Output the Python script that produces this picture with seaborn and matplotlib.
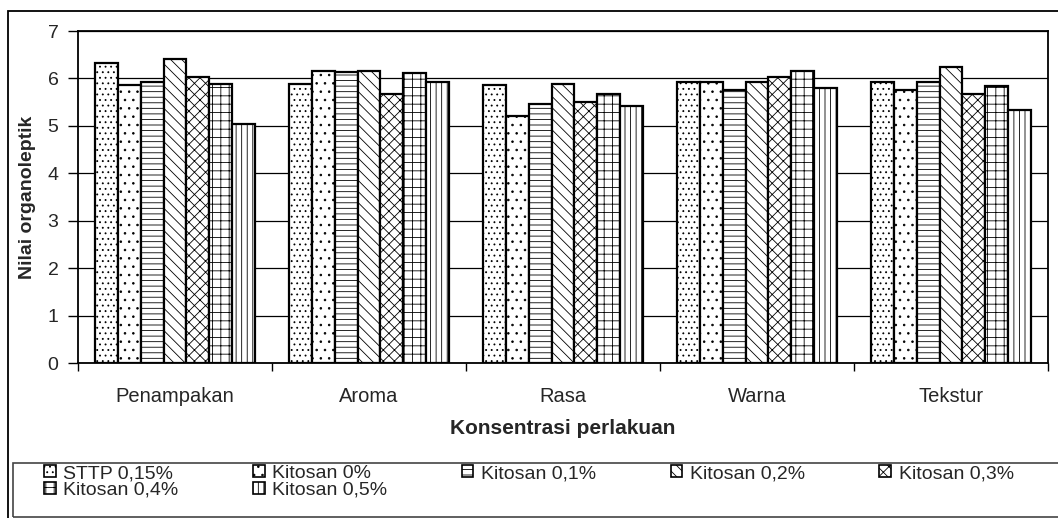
import pandas as pd
import numpy as np
import matplotlib
matplotlib.use('Agg')
import matplotlib.pyplot as plt
import seaborn as sns
from matplotlib.patches import Rectangle

# Data
categories = ['Penampakan', 'Aroma', 'Rasa', 'Warna', 'Tekstur']
treatments = ['STTP 0,15%', 'Kitosan 0%', 'Kitosan 0,1%', 'Kitosan 0,2%',
              'Kitosan 0,3%', 'Kitosan 0,4%', 'Kitosan 0,5%']
sttp_015 = [6.33, 5.88, 5.87, 5.92, 5.92]
kitosan_0 = [5.87, 6.16, 5.21, 5.92, 5.75]
kitosan_01 = [5.92, 6.13, 5.46, 5.75, 5.92]
kitosan_02 = [6.40, 6.16, 5.88, 5.92, 6.25]
kitosan_03 = [6.04, 5.67, 5.50, 6.04, 5.67]
kitosan_04 = [5.88, 6.12, 5.67, 6.16, 5.84]
kitosan_05 = [5.04, 5.92, 5.42, 5.79, 5.33]
yticks = [0, 1, 2, 3, 4, 5, 6, 7]

series = [sttp_015, kitosan_0, kitosan_01, kitosan_02, kitosan_03, kitosan_04, kitosan_05]
hatches = ['...', '..', '---', '\\\\\\', 'xxx', '++', '|||']

rows = []
for name, vals in zip(treatments, series):
    for cat, v in zip(categories, vals):
        rows.append({'kategori': cat, 'perlakuan': name, 'nilai': v})
df = pd.DataFrame(rows)

sns.set_style('white')
plt.rcParams['font.family'] = ['Liberation Sans', 'DejaVu Sans']
plt.rcParams['hatch.linewidth'] = 0.6
plt.rcParams['hatch.color'] = 'black'

fig = plt.figure(figsize=(10.58, 5.18), dpi=100)
ax = fig.add_axes([78 / 1058, 1 - 363 / 518, 970 / 1058, 332 / 518])

sns.barplot(data=df, x='kategori', y='nilai', hue='perlakuan', order=categories,
            hue_order=treatments, color='white', saturation=1, width=0.82, gap=0,
            edgecolor='black', linewidth=1.6, errorbar=None, legend=False, ax=ax)

handles = []
for cont, h, name in zip(ax.containers, hatches, treatments):
    for bar in cont:
        bar.set_facecolor('white')
        bar.set_hatch(h)
        bar.set_zorder(3)
    handles.append(plt.Rectangle((0, 0), 1, 1, facecolor='white', edgecolor='black',
                                 hatch=h, linewidth=1.2, label=name))

ax.set_ylim(0, 7)
ax.set_xlim(-0.5, len(categories) - 0.5)
ax.set_yticks(yticks)
ax.yaxis.grid(True, color='black', linewidth=0.9)
ax.set_axisbelow(True)
for s in ax.spines.values():
    s.set_visible(True)
    s.set_color('black')
    s.set_linewidth(1.3)

ax.tick_params(axis='y', which='major', direction='out', length=7, width=1,
               color='black', labelsize=14, pad=7, left=True)
ax.set_xticks(np.arange(-0.5, len(categories), 1.0), minor=True)
ax.tick_params(axis='x', which='minor', direction='out', length=6, width=1, color='black', bottom=True)
ax.tick_params(axis='x', which='major', length=0, labelsize=14.5, pad=17)

ax.set_ylabel('Nilai organoleptik', fontsize=14, fontweight='bold')
ax.yaxis.set_label_coords(-0.043, 0.5)
ax.set_xlabel('Konsentrasi perlakuan', fontsize=15, fontweight='bold')
ax.xaxis.set_label_coords(0.5, -0.17)

# outer chart frame and legend box
fig.patches.append(Rectangle((8 / 1058, -0.05), 1.05, 1.05 - 11 / 518, transform=fig.transFigure,
                             fill=False, edgecolor='black', linewidth=1.3, zorder=0))
fig.patches.append(Rectangle((13 / 1058, 1 / 518), 1.05, 54 / 518, transform=fig.transFigure,
                             fill=False, edgecolor='#444444', linewidth=1.2, zorder=0))

# reorder so the legend reads row by row
order = [0, 5, 1, 6, 2, 3, 4]
leg = fig.legend([handles[i] for i in order], [treatments[i] for i in order],
                 ncol=5, loc='upper left', mode='expand', frameon=False,
                 bbox_to_anchor=(44 / 1058, 1 - 500 / 518, 970 / 1058, 35 / 518),
                 bbox_transform=fig.transFigure, fontsize=14,
                 handlelength=0.6, handleheight=0.6, handletextpad=0.4,
                 labelspacing=-0.02, borderaxespad=0, borderpad=0)

fig.savefig('out.png', dpi=100)
